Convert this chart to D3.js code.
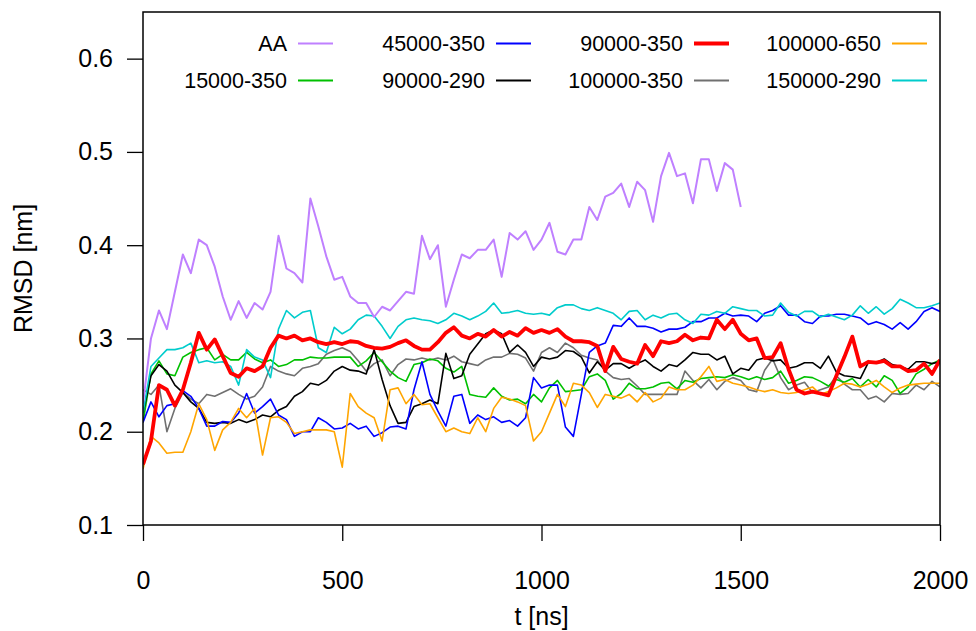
<!DOCTYPE html>
<html>
<head>
<meta charset="utf-8">
<script src="https://cdn.jsdelivr.net/npm/d3@7"></script>
<style>
  body { margin: 0; background: #fff; }
  svg text { font-family: "Liberation Sans", Arial, Helvetica, sans-serif; fill: #000; }
</style>
</head>
<body>
<div id="chart"></div>
<script>
// samples every 20 ns
const step = 20;

const rmsdAA = [
  0.23, 0.30, 0.33, 0.31, 0.35, 0.39, 0.37, 0.406, 0.40, 0.377, 0.345, 0.32, 0.34, 0.322, 0.338, 0.331, 0.35, 0.41, 0.375, 0.37, 0.36, 0.45, 0.42, 0.388, 0.363, 0.366,
  0.345, 0.338, 0.338, 0.323, 0.334, 0.33, 0.34, 0.35, 0.348, 0.41, 0.385, 0.40, 0.334, 0.363, 0.39, 0.386, 0.395, 0.395, 0.406, 0.366, 0.413, 0.406, 0.415, 0.395, 0.406,
  0.424, 0.393, 0.39, 0.406, 0.406, 0.441, 0.427, 0.452, 0.456, 0.466, 0.441, 0.468, 0.459, 0.425, 0.474, 0.499, 0.474, 0.477, 0.445, 0.492, 0.492, 0.458, 0.488, 0.481, 0.441
];

const rmsd15000_350 = [
  0.21, 0.262, 0.276, 0.262, 0.26, 0.28, 0.285, 0.288, 0.29, 0.277, 0.283, 0.277, 0.277, 0.285, 0.278, 0.274, 0.277, 0.27, 0.272, 0.277, 0.277, 0.28, 0.279, 0.279, 0.28, 0.28,
  0.28, 0.27, 0.276, 0.285, 0.275, 0.265, 0.258, 0.254, 0.272, 0.274, 0.278, 0.276, 0.268, 0.264, 0.27, 0.24, 0.238, 0.237, 0.247, 0.238, 0.234, 0.235, 0.23, 0.24, 0.232,
  0.247, 0.255, 0.243, 0.244, 0.245, 0.259, 0.262, 0.255, 0.235, 0.241, 0.252, 0.246, 0.246, 0.248, 0.252, 0.253, 0.246, 0.255, 0.253, 0.257, 0.258, 0.259, 0.258, 0.261, 0.259,
  0.256, 0.259, 0.256, 0.258, 0.265, 0.252, 0.255, 0.259, 0.258, 0.254, 0.249, 0.256, 0.253, 0.257, 0.248, 0.256, 0.248, 0.26, 0.255, 0.241, 0.248, 0.262, 0.267, 0.273, 0.277
];

const rmsd45000_350 = [
  0.21, 0.232, 0.216, 0.228, 0.23, 0.244, 0.238, 0.225, 0.206, 0.206, 0.211, 0.21, 0.22, 0.241, 0.22, 0.227, 0.235, 0.218, 0.213, 0.195, 0.2, 0.2, 0.215, 0.21, 0.203, 0.204,
  0.209, 0.203, 0.206, 0.195, 0.199, 0.205, 0.206, 0.203, 0.245, 0.275, 0.24, 0.222, 0.206, 0.238, 0.24, 0.209, 0.218, 0.213, 0.216, 0.21, 0.212, 0.206, 0.215, 0.258, 0.247,
  0.25, 0.25, 0.205, 0.195, 0.24, 0.285, 0.292, 0.295, 0.314, 0.313, 0.322, 0.313, 0.313, 0.311, 0.307, 0.31, 0.31, 0.312, 0.318, 0.318, 0.322, 0.322, 0.327, 0.324, 0.325,
  0.324, 0.318, 0.327, 0.33, 0.335, 0.325, 0.325, 0.318, 0.316, 0.324, 0.324, 0.326, 0.326, 0.324, 0.322, 0.315, 0.318, 0.315, 0.31, 0.317, 0.31, 0.318, 0.329, 0.333, 0.329
];

const rmsd90000_290 = [
  0.22, 0.26, 0.272, 0.265, 0.25, 0.242, 0.232, 0.225, 0.21, 0.209, 0.21, 0.209, 0.213, 0.21, 0.213, 0.218, 0.216, 0.223, 0.227, 0.238, 0.243, 0.252, 0.25, 0.255, 0.265, 0.27,
  0.266, 0.265, 0.262, 0.288, 0.256, 0.228, 0.209, 0.21, 0.227, 0.23, 0.234, 0.23, 0.284, 0.257, 0.26, 0.283, 0.294, 0.305, 0.309, 0.305, 0.285, 0.293, 0.285, 0.27, 0.28,
  0.278, 0.28, 0.287, 0.286, 0.28, 0.263, 0.275, 0.266, 0.273, 0.273, 0.268, 0.273, 0.277, 0.27, 0.265, 0.272, 0.27, 0.277, 0.285, 0.283, 0.283, 0.277, 0.281, 0.262, 0.268,
  0.266, 0.277, 0.279, 0.276, 0.277, 0.268, 0.27, 0.274, 0.274, 0.268, 0.281, 0.264, 0.26, 0.259, 0.257, 0.274, 0.274, 0.278, 0.272, 0.27, 0.267, 0.275, 0.275, 0.273, 0.275
];

const rmsd90000_350 = [
  0.165, 0.19, 0.25, 0.245, 0.228, 0.245, 0.274, 0.306, 0.288, 0.299, 0.281, 0.263, 0.259, 0.268, 0.265, 0.27, 0.29, 0.303, 0.3, 0.303, 0.298, 0.3, 0.296, 0.294, 0.296, 0.294,
  0.297, 0.296, 0.292, 0.29, 0.289, 0.291, 0.295, 0.298, 0.292, 0.288, 0.288, 0.296, 0.306, 0.312, 0.303, 0.3, 0.305, 0.302, 0.309, 0.302, 0.307, 0.303, 0.311, 0.306, 0.309,
  0.306, 0.31, 0.302, 0.297, 0.297, 0.296, 0.292, 0.265, 0.291, 0.278, 0.275, 0.273, 0.293, 0.281, 0.297, 0.295, 0.297, 0.304, 0.298, 0.301, 0.3, 0.32, 0.31, 0.32, 0.305,
  0.298, 0.3, 0.279, 0.28, 0.295, 0.267, 0.245, 0.241, 0.243, 0.241, 0.239, 0.26, 0.28, 0.302, 0.27, 0.275, 0.274, 0.276, 0.27, 0.27, 0.265, 0.266, 0.273, 0.262, 0.277
];

const rmsd100000_350 = [
  0.245, 0.24, 0.25, 0.2, 0.225, 0.242, 0.235, 0.23, 0.24, 0.238, 0.242, 0.246, 0.24, 0.235, 0.238, 0.248, 0.27, 0.265, 0.262, 0.26, 0.268, 0.27, 0.273, 0.283, 0.287, 0.29,
  0.286, 0.276, 0.265, 0.273, 0.277, 0.26, 0.272, 0.278, 0.277, 0.279, 0.277, 0.279, 0.277, 0.281, 0.275, 0.273, 0.271, 0.277, 0.28, 0.28, 0.284, 0.283, 0.279, 0.265, 0.285,
  0.29, 0.285, 0.295, 0.29, 0.282, 0.279, 0.277, 0.265, 0.258, 0.256, 0.257, 0.249, 0.24, 0.24, 0.24, 0.24, 0.24, 0.265, 0.255, 0.247, 0.256, 0.245, 0.254, 0.258, 0.255,
  0.245, 0.243, 0.266, 0.278, 0.258, 0.245, 0.25, 0.253, 0.242, 0.245, 0.248, 0.26, 0.251, 0.245, 0.245, 0.235, 0.238, 0.232, 0.241, 0.24, 0.241, 0.25, 0.245, 0.254, 0.248
];

const rmsd100000_650 = [
  0.16, 0.195, 0.188, 0.177, 0.178, 0.178, 0.2, 0.23, 0.213, 0.18, 0.202, 0.21, 0.225, 0.215, 0.225, 0.175, 0.215, 0.216, 0.21, 0.198, 0.2, 0.202, 0.202, 0.202, 0.2, 0.162,
  0.241, 0.227, 0.22, 0.215, 0.19, 0.245, 0.247, 0.23, 0.24, 0.229, 0.23, 0.215, 0.2, 0.204, 0.2, 0.198, 0.215, 0.2, 0.225, 0.237, 0.235, 0.232, 0.228, 0.19, 0.2,
  0.22, 0.24, 0.227, 0.252, 0.25, 0.242, 0.226, 0.24, 0.238, 0.236, 0.24, 0.232, 0.242, 0.232, 0.236, 0.248, 0.245, 0.245, 0.25, 0.259, 0.27, 0.254, 0.256, 0.252, 0.25,
  0.248, 0.245, 0.243, 0.245, 0.242, 0.241, 0.242, 0.245, 0.248, 0.24, 0.243, 0.247, 0.252, 0.251, 0.248, 0.251, 0.255, 0.248, 0.242, 0.247, 0.25, 0.251, 0.252, 0.252, 0.252
];

const rmsd150000_290 = [
  0.22, 0.27, 0.279, 0.288, 0.288, 0.29, 0.295, 0.274, 0.276, 0.274, 0.275, 0.27, 0.25, 0.288, 0.28, 0.277, 0.258, 0.31, 0.33, 0.322, 0.328, 0.33, 0.29, 0.285, 0.312, 0.305,
  0.31, 0.32, 0.325, 0.324, 0.313, 0.3, 0.313, 0.32, 0.322, 0.32, 0.319, 0.316, 0.32, 0.327, 0.324, 0.32, 0.324, 0.329, 0.338, 0.327, 0.328, 0.33, 0.327, 0.326, 0.327,
  0.325, 0.333, 0.336, 0.336, 0.332, 0.33, 0.333, 0.33, 0.327, 0.32, 0.329, 0.33, 0.32, 0.325, 0.322, 0.326, 0.327, 0.32, 0.316, 0.326, 0.325, 0.329, 0.327, 0.334, 0.332,
  0.33, 0.33, 0.324, 0.325, 0.338, 0.328, 0.324, 0.329, 0.329, 0.323, 0.326, 0.323, 0.32, 0.325, 0.335, 0.327, 0.334, 0.326, 0.332, 0.342, 0.338, 0.333, 0.333, 0.335, 0.338
];

const seriesNames = ['AA', '15000-350', '45000-350', '90000-290', '90000-350', '100000-350', '100000-650', '150000-290'];
const seriesValues = [rmsdAA, rmsd15000_350, rmsd45000_350, rmsd90000_290, rmsd90000_350, rmsd100000_350, rmsd100000_650, rmsd150000_290];
const seriesColors = ['#bf80ff', '#00c000', '#0000ff', '#000000', '#ff0000', '#707070', '#ffa500', '#00cccc'];
const seriesWidths = [2, 1.6, 1.6, 1.6, 3.8, 1.6, 1.6, 1.6];
const drawOrder = [5, 1, 3, 2, 6, 7, 4, 0];

const xTicks = [0, 500, 1000, 1500, 2000];
const yTicks = [0.1, 0.2, 0.3, 0.4, 0.5, 0.6];

const width = 976;
const height = 631;
const margin = { top: 12, right: 36, bottom: 106, left: 143 };
const innerW = width - margin.left - margin.right;
const innerH = height - margin.top - margin.bottom;

const series = seriesNames.map((name, i) => ({
  name: name,
  color: seriesColors[i],
  width: seriesWidths[i],
  points: seriesValues[i].map((v, k) => ({ t: k * step, v: v }))
}));

const svg = d3.select('#chart')
  .append('svg')
  .attr('width', width)
  .attr('height', height);

const g = svg.append('g')
  .attr('transform', `translate(${margin.left},${margin.top})`);

const xScale = d3.scaleLinear()
  .domain([0, 2000])
  .range([0, innerW]);

const yScale = d3.scaleLinear()
  .domain([0.1, 0.65])
  .range([innerH, 0]);

const xAxis = d3.axisBottom(xScale)
  .tickValues(xTicks)
  .tickFormat(d3.format('d'))
  .tickSize(16)
  .tickPadding(30);

const yAxis = d3.axisLeft(yScale)
  .tickValues(yTicks)
  .tickFormat(d3.format('.1f'))
  .tickSize(16)
  .tickPadding(14);

g.append('g')
  .attr('transform', `translate(0,${innerH})`)
  .call(xAxis)
  .call(a => a.select('.domain').remove())
  .call(a => a.selectAll('line').attr('stroke', '#000').attr('stroke-width', 1.3))
  .call(a => a.selectAll('text').attr('font-size', 25).attr('fill', '#000'));

g.append('g')
  .call(yAxis)
  .call(a => a.select('.domain').remove())
  .call(a => a.selectAll('line').attr('stroke', '#000').attr('stroke-width', 1.3))
  .call(a => a.selectAll('text').attr('font-size', 25).attr('fill', '#000'));

const line = d3.line()
  .x(d => xScale(d.t))
  .y(d => yScale(d.v));

g.append('defs').append('clipPath')
  .attr('id', 'plotClip')
  .append('rect')
  .attr('width', innerW)
  .attr('height', innerH);

g.append('g')
  .attr('clip-path', 'url(#plotClip)')
  .selectAll('path.series')
  .data(drawOrder.map(i => series[i]))
  .enter()
  .append('path')
  .attr('class', 'series')
  .attr('d', d => line(d.points))
  .attr('fill', 'none')
  .attr('stroke', d => d.color)
  .attr('stroke-width', d => d.width)
  .attr('stroke-linejoin', 'round');

// frame
g.append('rect')
  .attr('width', innerW)
  .attr('height', innerH)
  .attr('fill', 'none')
  .attr('stroke', '#000')
  .attr('stroke-width', 1.5);

// legend: filled column by column, two rows
const legendRight = [287, 485, 683, 881];
const legendRows = [43.5, 80.5];

const legend = svg.selectAll('g.legend')
  .data(series)
  .enter()
  .append('g')
  .attr('class', 'legend')
  .attr('transform', (d, i) => `translate(${legendRight[Math.floor(i / 2)]},${legendRows[i % 2]})`);

legend.append('text')
  .attr('text-anchor', 'end')
  .attr('dy', '0.36em')
  .attr('font-size', 21.5)
  .text(d => d.name);

legend.append('line')
  .attr('x1', 11)
  .attr('x2', 46)
  .attr('stroke', d => d.color)
  .attr('stroke-width', d => d.width > 3 ? 3.8 : 2);

svg.append('text')
  .attr('x', margin.left + innerW / 2)
  .attr('y', 616)
  .attr('dy', '0.35em')
  .attr('text-anchor', 'middle')
  .attr('font-size', 25)
  .text('t [ns]');

svg.append('text')
  .attr('transform', `translate(23,${margin.top + innerH / 2}) rotate(-90)`)
  .attr('dy', '0.35em')
  .attr('text-anchor', 'middle')
  .attr('font-size', 25)
  .text('RMSD [nm]');
</script>
</body>
</html>
